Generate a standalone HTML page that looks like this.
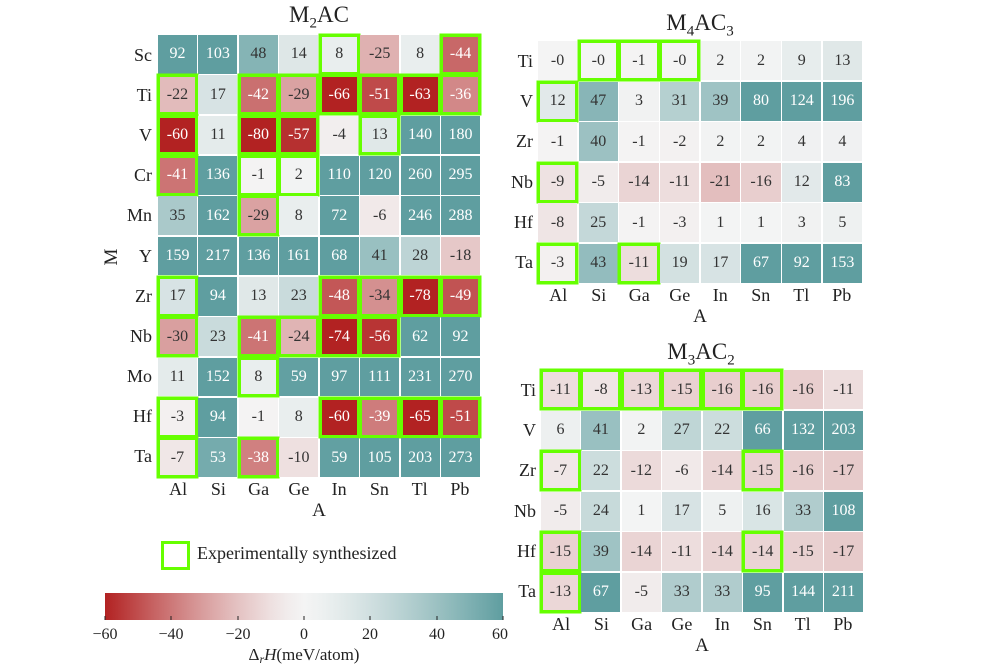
<!DOCTYPE html>
<html><head><meta charset="utf-8"><style>
body{margin:0;width:1000px;height:666px;background:#fff;position:relative;overflow:hidden;font-family:"Liberation Serif","DejaVu Serif",serif;color:#222}
.p{position:absolute;display:grid;grid-template-columns:repeat(8,1fr);gap:1.5px;background:#fff}
.p i{font-style:normal;display:flex;align-items:center;justify-content:center;font-size:16px}
.p i.g{box-shadow:0 0 0 1.5px #66ff00,inset 0 0 0 2px #66ff00}
.yl{position:absolute;display:flex;flex-direction:column;text-align:right;font-size:18px}
.yl div{flex:1;display:flex;align-items:center;justify-content:flex-end}
.xl{position:absolute;display:flex;font-size:18px}
.xl div{flex:1;text-align:center}
.t{position:absolute;font-size:23px;transform:translateX(-50%);white-space:nowrap}
.ax{position:absolute;font-size:19px;transform:translateX(-50%)}
sub{font-size:15px}
</style></head><body>
<div class="t" style="left:319px;top:2px">M<sub>2</sub>AC</div>
<div class="t" style="left:700px;top:10px">M<sub>4</sub>AC<sub>3</sub></div>
<div class="t" style="left:701px;top:339px">M<sub>3</sub>AC<sub>2</sub></div>

<div class="p" style="left:158px;top:35px;width:322px;height:442px;grid-template-rows:repeat(11,1fr)">
<i>92</i><i>103</i><i>48</i><i>14</i><i class="g">8</i><i>-25</i><i>8</i><i class="g">-44</i>
<i class="g">-22</i><i>17</i><i class="g">-42</i><i class="g">-29</i><i class="g">-66</i><i class="g">-51</i><i class="g">-63</i><i class="g">-36</i>
<i class="g">-60</i><i>11</i><i class="g">-80</i><i class="g">-57</i><i>-4</i><i class="g">13</i><i>140</i><i>180</i>
<i class="g">-41</i><i>136</i><i class="g">-1</i><i class="g">2</i><i>110</i><i>120</i><i>260</i><i>295</i>
<i>35</i><i>162</i><i class="g">-29</i><i>8</i><i>72</i><i>-6</i><i>246</i><i>288</i>
<i>159</i><i>217</i><i>136</i><i>161</i><i>68</i><i>41</i><i>28</i><i>-18</i>
<i class="g">17</i><i>94</i><i>13</i><i>23</i><i class="g">-48</i><i class="g">-34</i><i class="g">-78</i><i class="g">-49</i>
<i class="g">-30</i><i>23</i><i class="g">-41</i><i class="g">-24</i><i class="g">-74</i><i class="g">-56</i><i>62</i><i>92</i>
<i>11</i><i>152</i><i class="g">8</i><i>59</i><i>97</i><i>111</i><i>231</i><i>270</i>
<i class="g">-3</i><i>94</i><i>-1</i><i>8</i><i class="g">-60</i><i class="g">-39</i><i class="g">-65</i><i class="g">-51</i>
<i class="g">-7</i><i>53</i><i class="g">-38</i><i>-10</i><i>59</i><i>105</i><i>203</i><i>273</i>
</div>
<div class="yl" style="left:100px;top:35px;width:52px;height:442px"><div>Sc</div><div>Ti</div><div>V</div><div>Cr</div><div>Mn</div><div>Y</div><div>Zr</div><div>Nb</div><div>Mo</div><div>Hf</div><div>Ta</div></div>
<div class="xl" style="left:158px;top:479px;width:322px"><div>Al</div><div>Si</div><div>Ga</div><div>Ge</div><div>In</div><div>Sn</div><div>Tl</div><div>Pb</div></div>
<div class="ax" style="left:319px;top:500px">A</div>
<div class="ax" style="left:112px;top:246px;transform:translateX(-50%) rotate(-90deg)">M</div>

<div class="p" style="left:538px;top:41px;width:324px;height:242px;grid-template-rows:repeat(6,1fr)">
<i>-0</i><i class="g">-0</i><i class="g">-1</i><i class="g">-0</i><i>2</i><i>2</i><i>9</i><i>13</i>
<i class="g">12</i><i>47</i><i>3</i><i>31</i><i>39</i><i>80</i><i>124</i><i>196</i>
<i>-1</i><i>40</i><i>-1</i><i>-2</i><i>2</i><i>2</i><i>4</i><i>4</i>
<i class="g">-9</i><i>-5</i><i>-14</i><i>-11</i><i>-21</i><i>-16</i><i>12</i><i>83</i>
<i>-8</i><i>25</i><i>-1</i><i>-3</i><i>1</i><i>1</i><i>3</i><i>5</i>
<i class="g">-3</i><i>43</i><i class="g">-11</i><i>19</i><i>17</i><i>67</i><i>92</i><i>153</i>
</div>
<div class="yl" style="left:490px;top:41px;width:43px;height:242px"><div>Ti</div><div>V</div><div>Zr</div><div>Nb</div><div>Hf</div><div>Ta</div></div>
<div class="xl" style="left:538px;top:285px;width:324px"><div>Al</div><div>Si</div><div>Ga</div><div>Ge</div><div>In</div><div>Sn</div><div>Tl</div><div>Pb</div></div>
<div class="ax" style="left:700px;top:306px">A</div>

<div class="p" style="left:541px;top:370px;width:322px;height:242px;grid-template-rows:repeat(6,1fr)">
<i class="g">-11</i><i class="g">-8</i><i class="g">-13</i><i class="g">-15</i><i class="g">-16</i><i class="g">-16</i><i>-16</i><i>-11</i>
<i>6</i><i>41</i><i>2</i><i>27</i><i>22</i><i>66</i><i>132</i><i>203</i>
<i class="g">-7</i><i>22</i><i>-12</i><i>-6</i><i>-14</i><i class="g">-15</i><i>-16</i><i>-17</i>
<i>-5</i><i>24</i><i>1</i><i>17</i><i>5</i><i>16</i><i>33</i><i>108</i>
<i class="g">-15</i><i>39</i><i>-14</i><i>-11</i><i>-14</i><i class="g">-14</i><i>-15</i><i>-17</i>
<i class="g">-13</i><i>67</i><i>-5</i><i>33</i><i>33</i><i>95</i><i>144</i><i>211</i>
</div>
<div class="yl" style="left:490px;top:370px;width:46px;height:242px"><div>Ti</div><div>V</div><div>Zr</div><div>Nb</div><div>Hf</div><div>Ta</div></div>
<div class="xl" style="left:541px;top:614px;width:322px"><div>Al</div><div>Si</div><div>Ga</div><div>Ge</div><div>In</div><div>Sn</div><div>Tl</div><div>Pb</div></div>
<div class="ax" style="left:702px;top:635px">A</div>

<div style="position:absolute;left:161px;top:541px;width:23px;height:23px;border:3px solid #66ff00"></div>
<div style="position:absolute;left:197px;top:543px;font-size:18px">Experimentally synthesized</div>

<div id="cb" style="position:absolute;left:105px;top:593px;width:398px;height:27px"></div>
<svg style="position:absolute;left:0;top:0" width="1000" height="666">
<g stroke="#222" stroke-width="1">
<line x1="105" y1="616" x2="105" y2="620"/><line x1="171" y1="616" x2="171" y2="620"/><line x1="238" y1="616" x2="238" y2="620"/><line x1="304" y1="616" x2="304" y2="620"/><line x1="370" y1="616" x2="370" y2="620"/><line x1="437" y1="616" x2="437" y2="620"/><line x1="503" y1="616" x2="503" y2="620"/>
</g>
<g font-family="Liberation Serif, serif" font-size="16" fill="#222" text-anchor="middle">
<text x="105" y="639">−60</text><text x="171" y="639">−40</text><text x="238" y="639">−20</text><text x="304" y="639">0</text><text x="370" y="639">20</text><text x="437" y="639">40</text><text x="500" y="639">60</text>
<text x="304" y="660" font-size="17"><tspan>Δ</tspan><tspan font-style="italic" font-size="12" dy="3">r</tspan><tspan font-style="italic" dy="-3">H</tspan><tspan>(meV/atom)</tspan></text>
</g>
</svg>
<script>
function col(v){
 var t=Math.max(-1,Math.min(1,v/60)),a=Math.pow(Math.abs(t),1.3);
 var c=[244,244,244],d=t<0?[178,34,34]:[95,158,160];
 return 'rgb('+c.map(function(x,i){return Math.round(x+(d[i]-x)*a)}).join(',')+')';
}
document.querySelectorAll('.p i').forEach(function(e){
 var v=parseFloat(e.textContent);
 e.style.background=col(v);
 e.style.color=(v>=50||v<=-35)?'#fff':'#333';
});
var s=[];for(var k=0;k<=24;k++){s.push(col(-60+k*5)+' '+(k*100/24)+'%');}
document.getElementById('cb').style.background='linear-gradient(to right,'+s.join(',')+')';
</script>
</body></html>
